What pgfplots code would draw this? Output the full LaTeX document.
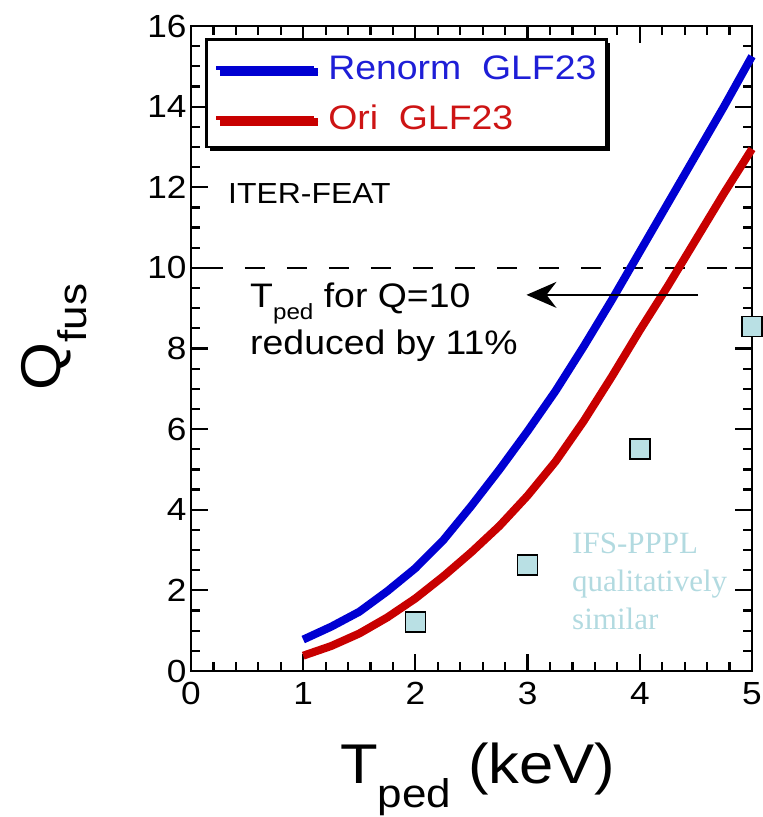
\documentclass[border=0pt]{standalone}
\usepackage{fontspec}
\setmainfont{Liberation Sans}[FakeStretch=1.1]
\newfontfamily\serifcyan{Liberation Serif}
\usepackage{pgfplots}
\pgfplotsset{compat=1.18}
\usetikzlibrary{arrows.meta,shadows}
\definecolor{cblue}{RGB}{0,0,210}
\definecolor{cred}{RGB}{200,0,0}
\definecolor{ltblue}{RGB}{30,30,215}
\definecolor{ltred}{RGB}{205,20,20}
\definecolor{ccyan}{RGB}{185,224,228}
\definecolor{ctext}{RGB}{178,218,224}
\begin{document}
\begin{tikzpicture}
\begin{axis}[
  name=ax,
  scale only axis, width=561pt, height=645pt,
  xmin=0, xmax=5, ymin=0, ymax=16,
  xtick={0,1,2,3,4,5}, ytick={0,2,4,6,8,10,12,14,16},
  minor x tick num=4, minor y tick num=3,
  tick align=inside,
  major tick length=17pt, minor tick length=9pt,
  every tick/.style={black, line width=2.2pt},
  axis line style={line width=2.5pt},
  tick label style={font=\fontsize{32}{32}\selectfont},
  /pgf/number format/assume math mode=true,
  yticklabel style={xshift=-1pt},
  xticklabel style={yshift=-8pt},
  xlabel={T\raisebox{-24pt}{\fontsize{40}{40}\selectfont ped} (keV)},
  ylabel={Q\raisebox{-26pt}{\fontsize{40}{40}\selectfont fus}},
  label style={font=\fontsize{56}{56}\selectfont},
  xlabel style={at={(axis description cs:0.511,-0.174)}, anchor=base},
  ylabel style={at={(axis description cs:-0.232,0.518)}, anchor=base},
  clip=false,
  legend style={at={(axis description cs:0.025,0.981)}, anchor=north west,
    draw=black, line width=2.5pt, fill=white,
    drop shadow={shadow xshift=4pt, shadow yshift=-4pt, fill=black, opacity=1},
    inner xsep=8pt, inner ysep=14pt, row sep=20pt,
    /tikz/every odd column/.append style={column sep=10pt},
    font=\fontsize{34}{34}\selectfont},
  legend cell align=left,
  legend image code/.code={\draw[#1, line width=4pt] (0pt,0pt) -- (98pt,0pt);},
]
\addplot[black, line width=2pt, dash pattern=on 20pt off 22pt, dash phase=30pt, forget plot] coordinates {(0,10) (5,10)};
\addplot[cblue, line width=8pt, line join=round] coordinates {
(1,0.78) (1.25,1.1) (1.5,1.47) (1.75,1.98) (2,2.55) (2.25,3.25) (2.5,4.1) (2.75,5.0) (3,5.95) (3.25,6.95) (3.5,8.05) (3.75,9.2) (4,10.4) (4.25,11.6) (4.5,12.8) (4.75,14.0) (5,15.25)};
\addlegendentry{\textcolor{ltblue}{Renorm\ \ GLF23}}
\addplot[cred, line width=8pt, line join=round] coordinates {
(1,0.38) (1.25,0.62) (1.5,0.93) (1.75,1.33) (2,1.8) (2.25,2.35) (2.5,2.95) (2.75,3.6) (3,4.35) (3.25,5.2) (3.5,6.2) (3.75,7.3) (4,8.45) (4.25,9.55) (4.5,10.7) (4.75,11.85) (5,12.95)};
\addlegendentry{\textcolor{ltred}{Ori\ \ GLF23}}
\addplot[only marks, mark=square*, mark size=10pt, mark options={fill=ccyan, draw=black, line width=1.6pt}, forget plot] coordinates {(2,1.22) (3,2.63) (4,5.5) (5,8.55)};
\node[anchor=west, inner sep=0, font=\fontsize{29}{29}\selectfont] at (axis cs:0.33,11.84) {ITER-FEAT};
\node[anchor=north west, inner sep=0, align=left, font=\fontsize{34}{47}\selectfont] at (axis cs:0.526,9.63)
  {T\raisebox{-12pt}{\fontsize{22}{22}\selectfont ped} for Q=10\\reduced by 11\%};
\draw[black, line width=2pt, -{Stealth[length=30pt, width=26pt, inset=10pt]}] (axis cs:4.52,9.33) -- (axis cs:2.99,9.33);
\node[anchor=north west, inner sep=0, align=left, text=ctext, font=\serifcyan\fontsize{31}{38}\selectfont] at (axis cs:3.396,3.42)
  {IFS-PPPL\\qualitatively\\similar};
\end{axis}
\pgfresetboundingbox
\path (ax.south west) ++(-191pt,-146pt) rectangle ++(763pt,817pt);
\end{tikzpicture}
\end{document}
